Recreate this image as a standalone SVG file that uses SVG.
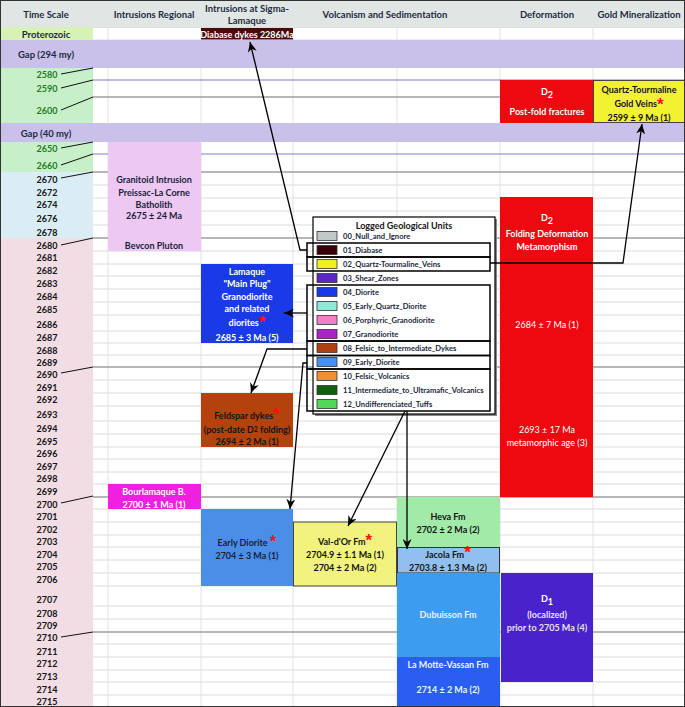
<svg xmlns="http://www.w3.org/2000/svg" width="685" height="707" viewBox="0 0 685 707">
<style>
.t{font-family:Lato,"Liberation Sans",sans-serif;font-weight:bold;font-size:9px;text-anchor:middle;dominant-baseline:central}
.h{fill:#1f2a44;font-size:9.5px}
.g{fill:#1e7d1e}
.k{fill:#141414}
.n{fill:#1a1f3c}
.w{fill:#ffffff}
.st{fill:#ff1010;font-family:"Liberation Sans",sans-serif;font-weight:bold;font-size:17px}
.lg{font-family:Lato,"Liberation Sans",sans-serif;font-weight:bold;font-size:7.6px;fill:#1a1f3c;dominant-baseline:central}
.grid{stroke:#dcdcdc;stroke-width:1;fill:none}
.vg{stroke:#e2e2e2;stroke-width:1}
.strong{stroke:#a0a0a0;stroke-width:1.6}
.blu{stroke:#8080c0;stroke-width:1.2}
.ld{stroke:#111;stroke-width:1}
.con{stroke:#000;stroke-width:1.3;fill:none;marker-end:url(#ah)}
.grp{fill:none;stroke:#000;stroke-width:1.5}
.sw{stroke:#333;stroke-width:0.8}
</style>
<defs>
<marker id="ah" markerUnits="userSpaceOnUse" markerWidth="11" markerHeight="9" refX="10" refY="4.5" orient="auto">
<path d="M0,0 L10,4.5 L0,9 L3,4.5 z" fill="#000"/>
</marker>
</defs>
<rect width="685" height="707" fill="#ffffff"/>
<!-- header -->
<rect x="0" y="0" width="685" height="27" fill="#dfe6e3"/>
<!-- time column backgrounds -->
<g id="timecol">
<rect x="0" y="27" width="93" height="13" fill="#d7f2b5"/>
<rect x="0" y="68" width="93" height="55" fill="#c8f0c8"/>
<rect x="0" y="142" width="93" height="30" fill="#c8f0c8"/>
<rect x="0" y="172" width="93" height="66" fill="#daedf5"/>
<rect x="0" y="238" width="93" height="469" fill="#f2dde5"/>
</g>
<!-- grid -->
<g id="grid">
<path class="grid" d="M93,27.5H685M93,40H685M93,185H685M93,198H685M93,211H685M93,225H685M93,251H685M93,264H685M93,276H685M93,289H685M93,302H685M93,315H685M93,331H685M93,343H685M93,355H685M93,380H685M93,393H685M93,406H685M93,421H685M93,434H685M93,447H685M93,459H685M93,472H685M93,484H685M93,509H685M93,522H685M93,535H685M93,547H685M93,560H685M93,573H685M93,586H685M93,606H685M93,619H685M93,644H685M93,657H685M93,670H685M93,682H685M93,695H685"/>
<path class="vg" d="M108,27V707M201,27V707M293,27V707M397,27V707M500,27V707M593,27V707"/>
<path class="blu" d="M93,80H685M93,154H685"/>
<path class="strong" d="M93,97H685M93,172H685M93,238H685M93,367H685M93,497H685M93,632H685"/>
</g>
<!-- gaps -->
<g id="gap1"><rect x="0" y="40" width="685" height="28" fill="#c9c1e9"/><text class="t h" x="46" y="54">Gap (294 my)</text></g>
<g id="gap2"><rect x="0" y="123" width="685" height="19" fill="#c9c1e9"/><text class="t h" x="46" y="133">Gap (40 my)</text></g>
<!-- header text -->
<g id="headers">
<text class="t h" x="46" y="14">Time Scale</text>
<text class="t h" x="154" y="14">Intrusions Regional</text>
<text class="t h" x="247" y="8">Intrusions at Sigma-</text>
<text class="t h" x="247" y="20">Lamaque</text>
<text class="t h" x="385" y="14">Volcanism and Sedimentation</text>
<text class="t h" x="547" y="14">Deformation</text>
<text class="t h" x="639" y="14">Gold Mineralization</text>
</g>
<!-- time labels -->
<g id="timelabels">
<text class="t h" x="46" y="34">Proterozoic</text>
<text class="t g" x="47" y="74">2580</text>
<text class="t g" x="47" y="88">2590</text>
<text class="t g" x="47" y="110">2600</text>
<text class="t g" x="47" y="148">2650</text>
<text class="t g" x="47" y="165">2660</text>
<g class="t k">
<text x="47" y="179">2670</text><text x="47" y="192">2672</text><text x="47" y="204">2674</text><text x="47" y="218">2676</text><text x="47" y="232">2678</text>
<text x="47" y="245">2680</text><text x="47" y="257">2681</text><text x="47" y="270">2682</text><text x="47" y="283">2683</text><text x="47" y="296">2684</text><text x="47" y="309">2685</text><text x="47" y="324">2686</text><text x="47" y="337">2687</text><text x="47" y="350">2688</text><text x="47" y="362">2689</text>
<text x="47" y="374">2690</text><text x="47" y="387">2691</text><text x="47" y="399">2692</text><text x="47" y="414">2693</text><text x="47" y="428">2694</text><text x="47" y="441">2695</text><text x="47" y="453">2696</text><text x="47" y="466">2697</text><text x="47" y="478">2698</text><text x="47" y="491">2699</text>
<text x="47" y="504">2700</text><text x="47" y="516">2701</text><text x="47" y="529">2702</text><text x="47" y="541">2703</text><text x="47" y="554">2704</text><text x="47" y="566">2705</text><text x="47" y="579">2706</text><text x="47" y="599">2707</text><text x="47" y="613">2708</text><text x="47" y="625">2709</text>
<text x="47" y="637">2710</text><text x="47" y="651">2711</text><text x="47" y="663">2712</text><text x="47" y="676">2713</text><text x="47" y="689">2714</text><text x="47" y="701">2715</text>
</g>
<path class="ld" d="M61,74L93,68M61,88L93,80M61,110L93,97M61,148L93,142M61,165L93,154M61,178L93,172M61,245L93,238M61,373L93,367M61,503L93,496M61,637L93,632"/>
</g>
<!-- nodes -->
<g id="diabase"><rect x="201" y="28" width="92" height="11.5" fill="#4a0a0c"/><text class="t w" x="247" y="34" font-size="8">Diabase dykes 2286Ma</text></g>
<g id="d2-postfold"><rect x="500" y="80" width="93" height="43" fill="#ee0810"/><text class="t w" x="547" y="91" font-size="14" font-weight="normal">D<tspan font-size="9" dy="3">2</tspan></text><text class="t w" x="547" y="111">Post-fold fractures</text></g>
<g id="quartz"><rect x="593.5" y="80.5" width="91" height="42" fill="#f2f232" stroke="#444" stroke-width="1"/><text class="t k" x="639" y="89">Quartz-Tourmaline</text><text class="t k" x="639" y="103" font-weight="normal">Gold Veins<tspan class="st" dy="0.5">*</tspan></text><text class="t k" x="639" y="117" font-weight="normal">2599 ± 9 Ma (1)</text></g>
<g id="granitoid"><rect x="108" y="142" width="93" height="109" fill="#ecc8f2"/><g class="t n"><text x="154" y="179">Granitoid Intrusion</text><text x="154" y="192">Preissac-La Corne</text><text x="154" y="204">Batholith</text><text x="154" y="215">2675 ± 24 Ma</text><text x="154" y="245">Bevcon Pluton</text></g></g>
<g id="d2-folding"><rect x="500" y="197" width="93" height="300" fill="#ee0810"/><text class="t w" x="547" y="217" font-size="14" font-weight="normal">D<tspan font-size="9" dy="3">2</tspan></text><g class="t w"><text x="547" y="233">Folding Deformation</text><text x="547" y="246">Metamorphism</text><text x="547" y="324" font-weight="normal">2684 ± 7 Ma (1)</text><text x="547" y="429" font-weight="normal">2693 ± 17 Ma</text><text x="547" y="442" font-weight="normal">metamorphic age (3)</text></g></g>
<g id="lamaque"><rect x="201" y="264" width="92" height="79" fill="#1a3ae8"/><g class="t w"><text x="247" y="271">Lamaque</text><text x="247" y="283">"Main Plug"</text><text x="247" y="296">Granodiorite</text><text x="247" y="308">and related</text><text x="247" y="322">diorites<tspan class="st" dy="0">*</tspan></text><text x="247" y="337">2685 ± 3 Ma (5)</text></g></g>
<g id="feldspar"><rect x="201" y="393" width="92" height="54" fill="#b4420c"/><g class="t k"><text x="247" y="415">Feldspar dykes<tspan class="st" dy="-1">*</tspan></text><text x="247" y="429">(post-date D<tspan font-size="7">2</tspan> folding)</text><text x="247" y="441">2694 ± 2 Ma (1)</text></g></g>
<g id="bourlamaque"><rect x="108" y="484" width="93" height="25" fill="#f020e0"/><g class="t w"><text x="154" y="491">Bourlamaque B.</text><text x="154" y="504">2700 ± 1 Ma (1)</text></g></g>
<g id="heva"><rect x="397" y="497" width="103" height="50" fill="#a2eaa8"/><g class="t k"><text x="448" y="516">Heva Fm</text><text x="448" y="529">2702 ± 2 Ma (2)</text></g></g>
<g id="early-diorite"><rect x="201" y="509" width="92" height="77" fill="#4a8ee8"/><g class="t n"><text x="247" y="542">Early Diorite <tspan class="st" dy="-1">*</tspan></text><text x="247" y="555">2704 ± 3 Ma (1)</text></g></g>
<g id="valdor"><rect x="293.5" y="522" width="103" height="64" fill="#f2f27e" stroke="#444" stroke-width="1"/><g class="t k"><text x="345" y="541">Val-d'Or Fm<tspan class="st" dy="-1">*</tspan></text><text x="345" y="554">2704.9 ± 1.1 Ma (1)</text><text x="345" y="567">2704 ± 2 Ma (2)</text></g></g>
<g id="jacola"><rect x="397.5" y="547.5" width="102" height="25.5" fill="#90c0f0" stroke="#333" stroke-width="1"/><g class="t k"><text x="448" y="554">Jacola Fm<tspan class="st" font-size="15" dy="-2">*</tspan></text><text x="448" y="567">2703.8 ± 1.3 Ma (2)</text></g></g>
<g id="dubuisson"><rect x="397" y="573" width="103" height="84" fill="#3b9cf0"/><text class="t" x="448" y="614" fill="#e8f2ff">Dubuisson Fm</text></g>
<g id="lamotte"><rect x="397" y="657" width="103" height="50" fill="#2a5ef0"/><g class="t" fill="#e8f2ff"><text x="448" y="664">La Motte-Vassan Fm</text><text x="448" y="689">2714 ± 2 Ma (2)</text></g></g>
<g id="d1"><rect x="501" y="573" width="92" height="109" fill="#4a22cc"/><text class="t w" x="547" y="598" font-size="14" font-weight="normal">D<tspan font-size="9" dy="3">1</tspan></text><g class="t" fill="#e6e0ff"><text x="547" y="614">(localized)</text><text x="547" y="627">prior to 2705 Ma (4)</text></g></g>
<!-- legend -->
<g id="legend">
<rect x="315" y="219" width="182" height="197" fill="#888"/>
<rect x="313" y="217" width="182" height="197" fill="#fff" stroke="#000" stroke-width="1.2"/>
<text class="t k" x="404" y="225" font-size="9.5">Logged Geological Units</text>
<rect class="sw" x="317" y="231.5" width="20" height="9" fill="#c0c8c8"/><text class="lg" x="343" y="236">00_Null_and_Ignore</text>
<rect class="sw" x="317" y="245.5" width="20" height="9" fill="#3a0008"/><text class="lg" x="343" y="250">01_Diabase</text>
<rect class="sw" x="317" y="259.5" width="20" height="9" fill="#f0f020"/><text class="lg" x="343" y="264">02_Quartz-Tourmaline_Veins</text>
<rect class="sw" x="317" y="273.5" width="20" height="9" fill="#5a28c0"/><text class="lg" x="343" y="278">03_Shear_Zones</text>
<rect class="sw" x="317" y="287.5" width="20" height="9" fill="#1a3ae8"/><text class="lg" x="343" y="292">04_Diorite</text>
<rect class="sw" x="317" y="301.5" width="20" height="9" fill="#90e8d8"/><text class="lg" x="343" y="306">05_Early_Quartz_Diorite</text>
<rect class="sw" x="317" y="315.5" width="20" height="9" fill="#f080c8"/><text class="lg" x="343" y="320">06_Porphyric_Granodiorite</text>
<rect class="sw" x="317" y="329.5" width="20" height="9" fill="#b020c8"/><text class="lg" x="343" y="334">07_Granodiorite</text>
<rect class="sw" x="317" y="343.5" width="20" height="9" fill="#b04010"/><text class="lg" x="343" y="348">08_Felsic_to_Intermediate_Dykes</text>
<rect class="sw" x="317" y="357.5" width="20" height="9" fill="#4890f0"/><text class="lg" x="343" y="362">09_Early_Diorite</text>
<rect class="sw" x="317" y="371.5" width="20" height="9" fill="#f09030"/><text class="lg" x="343" y="376">10_Felsic_Volcanics</text>
<rect class="sw" x="317" y="385.5" width="20" height="9" fill="#106010"/><text class="lg" x="343" y="390">11_Intermediate_to_Ultramafic_Volcanics</text>
<rect class="sw" x="317" y="399.5" width="20" height="9" fill="#50d858"/><text class="lg" x="343" y="404">12_Undifferenciated_Tuffs</text>
<rect class="grp" x="307" y="243" width="183" height="14"/>
<rect class="grp" x="307" y="257" width="183" height="14"/>
<rect class="grp" x="307" y="285" width="183" height="56"/>
<rect class="grp" x="307" y="341" width="183" height="14.5"/>
<rect class="grp" x="307" y="355.5" width="183" height="13.5"/>
<rect class="grp" x="307" y="369" width="183" height="42"/>
</g>
<!-- connectors -->
<g id="connectors">
<path class="con" d="M307,250H300L250,42"/>
<path class="con" d="M490,263H623L642,124"/>
<path class="con" d="M307,313H284"/>
<path class="con" d="M307,349H267L251,393"/>
<path class="con" d="M307,363H303L290,509"/>
<path class="con" d="M405,411L348,526"/>
<path class="con" d="M407,411V549"/>
</g>
<rect x="0.5" y="0.5" width="684" height="706" fill="none" stroke="#333" stroke-width="1"/>
</svg>
